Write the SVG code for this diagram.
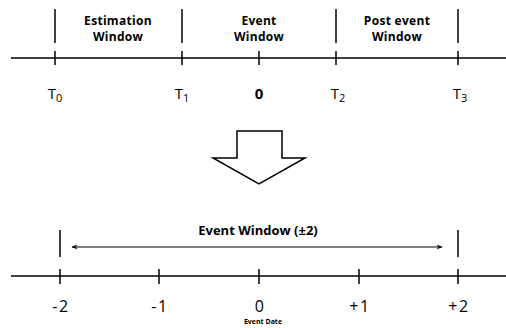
<svg xmlns="http://www.w3.org/2000/svg" width="506" height="328" viewBox="0 0 506 328">
<defs>
<style>
.ln{stroke:#000;stroke-width:1.5;fill:none}
.hd{font-family:"Open Sans","Noto Sans",sans-serif;font-weight:bold;font-size:12px;fill:#000;text-anchor:middle;letter-spacing:0.3px}
.ew{font-family:"Open Sans","Noto Sans",sans-serif;font-weight:bold;font-size:13px;fill:#000;text-anchor:middle}
.lb{font-family:"Open Sans","Noto Sans",sans-serif;font-size:15px;fill:#000;text-anchor:middle}
.nb{font-family:"Open Sans","Noto Sans",sans-serif;font-size:16px;fill:#000;text-anchor:middle;letter-spacing:1.5px}
.sb{font-size:11px}
</style>
<marker id="ah" viewBox="0 0 10 10" refX="9" refY="5" markerWidth="6" markerHeight="6" orient="auto-start-reverse" markerUnits="userSpaceOnUse">
<path d="M0,1 L10,5 L0,9 L3,5 Z" fill="#000"/>
</marker>
</defs>
<rect width="506" height="328" fill="#fff"/>
<g id="connectors">
<line class="ln" x1="11" y1="58" x2="506" y2="58"/>
<line class="ln" x1="55" y1="9" x2="55" y2="43"/>
<line class="ln" x1="182" y1="9" x2="182" y2="43"/>
<line class="ln" x1="336" y1="9" x2="336" y2="43"/>
<line class="ln" x1="458" y1="9" x2="458" y2="43"/>
<line class="ln" x1="55" y1="51" x2="55" y2="65"/>
<line class="ln" x1="182" y1="51" x2="182" y2="65"/>
<line class="ln" x1="259" y1="51" x2="259" y2="65"/>
<line class="ln" x1="336" y1="51" x2="336" y2="65"/>
<line class="ln" x1="458" y1="51" x2="458" y2="65"/>
<line class="ln" x1="11" y1="276" x2="506" y2="276"/>
<line class="ln" x1="60" y1="230" x2="60" y2="257"/>
<line class="ln" x1="458" y1="230" x2="458" y2="257"/>
<line class="ln" x1="60" y1="269" x2="60" y2="284"/>
<line class="ln" x1="159" y1="269" x2="159" y2="284"/>
<line class="ln" x1="259" y1="269" x2="259" y2="284"/>
<line class="ln" x1="359" y1="269" x2="359" y2="284"/>
<line class="ln" x1="458" y1="269" x2="458" y2="284"/>
<line x1="72" y1="247" x2="442" y2="247" stroke="#000" stroke-width="1.2" marker-start="url(#ah)" marker-end="url(#ah)"/>
</g>
<g id="estimation-window">
<text class="hd" x="118" y="25">Estimation</text>
<text class="hd" x="118" y="41">Window</text>
</g>
<g id="event-window">
<text class="hd" x="259" y="25">Event</text>
<text class="hd" x="259" y="41">Window</text>
</g>
<g id="post-event-window">
<text class="hd" x="397" y="25">Post event</text>
<text class="hd" x="397" y="41">Window</text>
</g>
<g id="top-labels">
<text class="lb" x="55" y="99">T<tspan class="sb" dy="3">0</tspan></text>
<text class="lb" x="182" y="99">T<tspan class="sb" dy="3">1</tspan></text>
<text class="lb" x="259" y="99" font-weight="bold">0</text>
<text class="lb" x="338" y="99">T<tspan class="sb" dy="3">2</tspan></text>
<text class="lb" x="460" y="99">T<tspan class="sb" dy="3">3</tspan></text>
</g>
<g id="down-arrow">
<path d="M237,131 H282 V158 H305 L259,184 L213,158 H237 Z" fill="#fff" stroke="#000" stroke-width="1.5" stroke-linejoin="miter"/>
</g>
<g id="event-window-2">
<text class="ew" x="258" y="235">Event Window  (±2)</text>
</g>
<g id="bottom-labels">
<text class="nb" x="61" y="312">-2</text>
<text class="nb" x="160" y="312">-1</text>
<text class="nb" x="260" y="312">0</text>
<text class="nb" x="360" y="312">+1</text>
<text class="nb" x="459" y="312">+2</text>
<text x="263" y="324" font-family="'Open Sans','Noto Sans',sans-serif" font-weight="bold" font-size="7px" text-anchor="middle">Event Date</text>
</g>
</svg>
